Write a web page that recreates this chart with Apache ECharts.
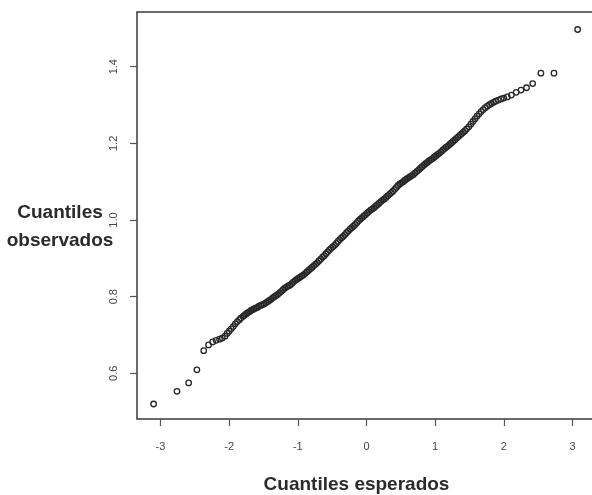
<!DOCTYPE html>
<html>
<head>
<meta charset="utf-8">
<script src="https://cdn.jsdelivr.net/npm/echarts@6/dist/echarts.min.js"></script>
<style>
html,body{margin:0;padding:0;background:#fff;}
#chart{width:592px;height:495px;}
</style>
</head>
<body>
<div id="chart"></div>
<script>
// Expected (theoretical) quantiles
var expectedQuantiles = [
-3.10,-2.76,-2.59,-2.47,-2.37,-2.30,-2.24,-2.19,-2.14,-2.10,-2.06,-2.03,-2.00,-1.97,-1.94,-1.91,-1.88,-1.85,-1.83,-1.80,-1.78,-1.76,-1.74,-1.72,-1.70,-1.68,-1.66,
-1.64,-1.615,-1.59,-1.565,-1.54,-1.515,-1.49,-1.465,-1.44,-1.415,-1.39,-1.365,-1.34,-1.315,-1.29,-1.265,-1.24,-1.215,-1.19,-1.165,-1.14,-1.115,-1.09,-1.065,-1.04,-1.015,
-0.99,-0.965,-0.94,-0.915,-0.89,-0.865,-0.84,-0.815,-0.79,-0.765,-0.74,-0.715,-0.69,-0.665,-0.64,-0.615,-0.59,-0.565,-0.54,-0.515,-0.49,-0.465,-0.44,-0.415,-0.39,-0.365,
-0.34,-0.315,-0.29,-0.265,-0.24,-0.215,-0.19,-0.165,-0.14,-0.115,-0.09,-0.065,-0.04,-0.015,0.01,0.035,0.06,0.085,0.11,0.135,0.16,0.185,0.21,0.235,0.26,0.285,0.31,0.335,
0.36,0.385,0.41,0.435,0.46,0.485,0.51,0.535,0.56,0.585,0.61,0.635,0.66,0.685,0.71,0.735,0.76,0.785,0.81,0.835,0.86,0.885,0.91,0.935,0.96,0.985,1.01,1.035,1.06,1.085,
1.11,1.135,1.16,1.185,1.21,1.235,1.26,1.285,1.31,1.335,1.36,1.385,1.41,1.435,1.46,1.49,1.52,1.55,1.58,1.61,1.64,1.67,1.70,1.73,1.76,1.79,1.82,1.85,1.88,1.92,1.96,
2.00,2.05,2.11,2.18,2.25,2.33,2.42,2.54,2.73,3.075
];
var observedQuantiles = [
0.520,0.553,0.575,0.609,0.659,0.674,0.682,0.686,0.689,0.692,0.697,0.704,0.710,0.716,0.722,0.729,0.735,0.740,0.744,0.748,0.751,0.754,0.757,0.759,0.761,0.764,0.766,
0.768,0.770,0.772,0.775,0.777,0.779,0.781,0.784,0.787,0.790,0.793,0.797,0.800,0.803,0.806,0.810,0.814,0.818,0.822,0.825,0.828,0.830,0.834,0.838,0.842,0.845,
0.848,0.851,0.854,0.857,0.861,0.865,0.869,0.873,0.877,0.881,0.885,0.889,0.894,0.898,0.903,0.907,0.912,0.917,0.922,0.926,0.930,0.934,0.939,0.944,0.949,0.953,
0.957,0.962,0.967,0.971,0.976,0.980,0.984,0.988,0.993,0.998,1.002,1.006,1.010,1.014,1.018,1.022,1.026,1.029,1.032,1.036,1.040,1.044,1.048,1.052,1.055,1.059,1.063,1.067,
1.071,1.075,1.080,1.085,1.090,1.094,1.097,1.100,1.104,1.107,1.110,1.113,1.116,1.119,1.123,1.127,1.131,1.135,1.139,1.143,1.147,1.150,1.154,1.157,1.160,1.164,1.167,1.171,1.174,1.178,
1.182,1.186,1.190,1.193,1.197,1.201,1.205,1.209,1.213,1.217,1.221,1.225,1.229,1.233,1.238,1.243,1.250,1.257,1.264,1.271,1.277,1.283,1.288,1.293,1.297,1.301,1.304,1.307,1.310,1.313,1.316,
1.318,1.321,1.326,1.333,1.339,1.345,1.356,1.383,1.383,1.497
];
var xTicks = [-3, -2, -1, 0, 1, 2, 3];
var yTicks = [0.6, 0.8, 1.0, 1.2, 1.4];
var xTitle = 'Cuantiles esperados';
var yTitle = 'Cuantiles\nobservados';

var points = expectedQuantiles.map(function (x, i) { return [x, observedQuantiles[i]]; });

var FONT = 'Liberation Sans, Arial, sans-serif';
var chart = echarts.init(document.getElementById('chart'), null, {renderer: 'canvas'});
chart.setOption({
  animation: false,
  backgroundColor: '#ffffff',
  title: {
    text: yTitle,
    left: 55, top: 194, padding: 5,
    textAlign: 'center',
    textStyle: {fontSize: 19, fontWeight: 'bold', color: '#2a2a2a', fontFamily: FONT, lineHeight: 28}
  },
  grid: {
    left: 137, top: 12, width: 457, height: 407,
    containLabel: false, outerBoundsMode: 'none',
    show: true, borderColor: '#3a3a3a', borderWidth: 1.5, backgroundColor: 'transparent'
  },
  xAxis: {
    type: 'value', min: -3.342, max: 3.313,
    splitLine: {show: false},
    axisLine: {show: false, onZero: false},
    axisTick: {show: true, length: 7, inside: false, customValues: xTicks, lineStyle: {color: '#555', width: 1.2}},
    axisLabel: {customValues: xTicks, margin: 22, color: '#444', fontSize: 11, fontFamily: FONT},
    name: xTitle, nameLocation: 'middle', nameGap: 56,
    nameTextStyle: {fontSize: 19, fontWeight: 'bold', color: '#2a2a2a', fontFamily: FONT, padding: [0, 18, 0, 0]}
  },
  yAxis: {
    type: 'value', min: 0.4808, max: 1.5427,
    splitLine: {show: false},
    axisLine: {show: false, onZero: false},
    axisTick: {show: true, length: 7, inside: false, customValues: yTicks, lineStyle: {color: '#555', width: 1.2}},
    axisLabel: {customValues: yTicks, rotate: 90, margin: 18, color: '#444', fontSize: 11, fontFamily: FONT,
      formatter: function (v) { return v.toFixed(1); }}
  },
  series: [{
    type: 'scatter',
    data: points,
    symbol: 'circle',
    symbolSize: 5.5,
    itemStyle: {color: 'rgba(255,255,255,0)', borderColor: '#262626', borderWidth: 1.3, opacity: 1}
  }]
});
</script>
</body>
</html>
